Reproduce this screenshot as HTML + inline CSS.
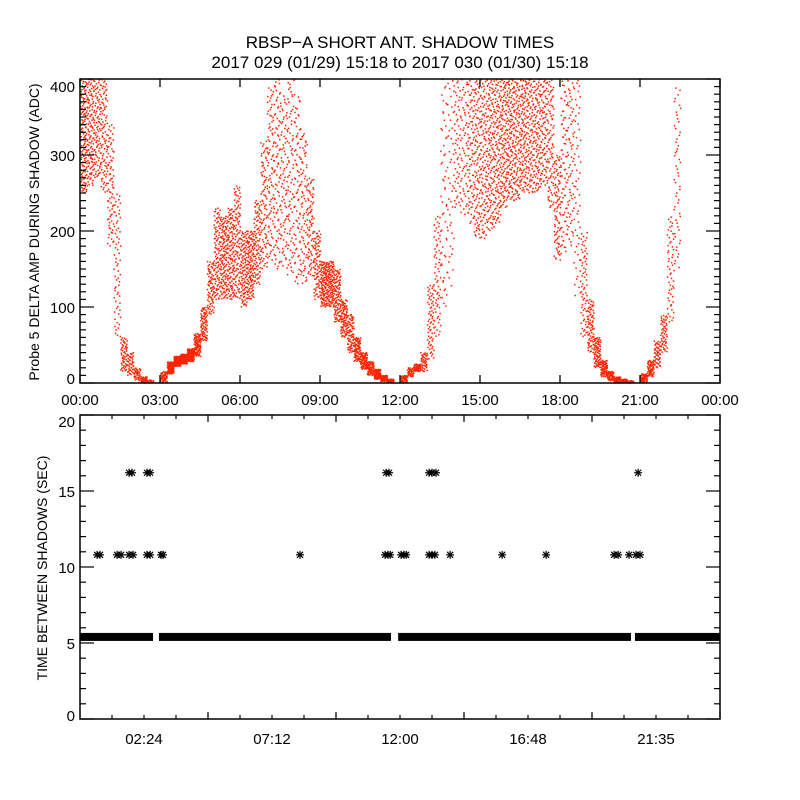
<!DOCTYPE html>
<html><head><meta charset="utf-8">
<style>
html,body{margin:0;padding:0;background:#fff;}
svg{display:block;font-family:"Liberation Sans",sans-serif;}
</style></head>
<body>
<svg id="chart" width="800" height="800" viewBox="0 0 800 800" xmlns="http://www.w3.org/2000/svg">
<rect width="800" height="800" fill="#fff"/>
<text x="400" y="48" font-size="17" text-anchor="middle">RBSP−A SHORT ANT. SHADOW TIMES</text>
<text x="400" y="68" font-size="17" text-anchor="middle">2017 029 (01/29) 15:18 to 2017 030 (01/30) 15:18</text>
<g id="topPanel"></g>
<g id="botPanel"></g>
<text transform="translate(39,232) rotate(-90)" font-size="14" text-anchor="middle">Probe 5 DELTA AMP DURING SHADOW (ADC)</text>
<text transform="translate(47,568) rotate(-90)" font-size="14" text-anchor="middle">TIME BETWEEN SHADOWS (SEC)</text>
</svg>
<script>
// ---- top panel data (hours, ADC bands) ----
const binStart = [0,0.25,0.5,0.75,1,1.25,1.5,1.75,2,2.25,2.5,
 3,3.25,3.5,3.75,4,4.25,4.5,4.75,5,5.25,5.5,5.75,6,6.25,6.5,6.75,7,7.25,7.5,7.75,8,8.25,8.5,8.75,9,9.25,9.5,9.75,10,10.25,10.5,10.75,11,11.25,11.5,
 12,12.25,12.5,12.75,13,13.25,13.5,13.75,14,14.25,14.5,14.75,15,15.25,15.5,15.75,16,16.25,16.5,16.75,17,17.25,17.5,17.75,18,18.25,18.5,18.75,19,19.25,19.5,19.75,20,20.25,20.5,
 21,21.25,21.5,21.75,22,22.25];
const binLow = [250,260,270,250,180,60,15,10,3,0,0,
 0,12,22,25,28,35,55,90,110,110,110,110,100,110,130,150,160,150,150,140,130,130,140,110,100,100,80,60,40,28,18,10,5,2,0,
 0,8,15,15,30,60,100,120,230,220,210,190,190,200,210,230,240,240,250,250,250,260,230,160,170,180,110,60,40,20,8,3,0,0,0,
 0,8,20,40,80,150];
const binHigh = [400,400,400,400,340,250,60,40,20,8,4,
 15,28,35,38,45,65,100,160,230,220,230,260,200,200,240,320,390,400,380,400,380,330,270,200,160,160,150,110,90,60,40,28,18,10,5,
 10,20,25,40,130,220,400,400,400,400,400,400,400,400,400,400,400,400,400,400,400,400,400,300,400,400,400,200,110,60,30,15,8,5,3,
 12,30,55,90,220,390];
const binCount = [60,50,40,40,35,30,25,20,15,15,6,
 20,40,50,50,45,40,35,35,50,55,55,50,50,50,45,40,40,40,35,35,35,35,35,40,50,50,45,40,35,35,35,30,30,25,20,
 15,15,20,20,30,30,25,20,25,25,40,50,50,55,55,55,55,50,50,45,45,40,40,40,35,30,25,30,35,35,30,25,20,15,8,
 20,25,25,25,25,25];
const topXTicks = ["00:00","03:00","06:00","09:00","12:00","15:00","18:00","21:00","00:00"];
const topYTicks = [0,100,200,300,400];
// ---- bottom panel data ----
const barStart = [0,2.96,11.93,20.81];
const barEnd = [2.74,11.66,20.66,24];
const barValue = [5.4,5.4,5.4,5.4];
const starTimes = [0.64,0.75,1.39,1.54,1.84,1.99,2.51,2.63,3.04,3.11,8.25,11.44,11.55,11.63,12.04,12.15,12.23,13.09,13.2,13.31,13.88,15.83,17.48,20.03,20.18,20.59,20.85,21.0,
 1.84,1.95,2.51,2.63,11.48,11.59,13.09,13.2,13.35,20.93];
const starValues = [10.8,10.8,10.8,10.8,10.8,10.8,10.8,10.8,10.8,10.8,10.8,10.8,10.8,10.8,10.8,10.8,10.8,10.8,10.8,10.8,10.8,10.8,10.8,10.8,10.8,10.8,10.8,10.8,
 16.2,16.2,16.2,16.2,16.2,16.2,16.2,16.2,16.2,16.2];
const botXTickLabels = ["02:24","07:12","12:00","16:48","21:35"];
const botXTickHours = [2.4,7.2,12,16.8,21.6];
const botYTicks = [0,5,10,15,20];

const NS="http://www.w3.org/2000/svg";
function mk(tag,attrs,parent){const e=document.createElementNS(NS,tag);for(const k in attrs)e.setAttribute(k,attrs[k]);parent.appendChild(e);return e;}
function halton(i,b){let f=1,r=0;while(i>0){f/=b;r+=f*(i%b);i=Math.floor(i/b);}return r;}
const L=80,R=720;
const tT=79,tB=383;
const tx=h=>L+(h/24)*(R-L);
const ty=v=>tB-(v/400)*(tB-tT);
const topG=document.getElementById('topPanel');
const dots=mk('g',{fill:'#ff2200'},topG);


let k=7;
for(let i=0;i<binStart.length;i++){
  const n=Math.round(binCount[i]*2.2);
  for(let j=0;j<n;j++){
    k++;
    const fx=halton(k,2), fy=halton(k,3);
    const h=binStart[i]+fx*0.25;
    const v=binLow[i]+fy*(binHigh[i]-binLow[i]);
    const d=mk('rect',{x:tx(h).toFixed(1),y:(ty(v)-0.75).toFixed(1),width:1.5,height:1.5},dots);
    
    
  }
}
const frameT=mk('rect',{x:L,y:tT,width:R-L,height:tB-tT,fill:'none',stroke:'#000','stroke-width':1.5},topG);


for(let i=0;i<topXTicks.length;i++){
  const x=tx(i*3);
  mk('line',{x1:x,y1:tB,x2:x,y2:tB-8,stroke:'#000','stroke-width':1.3},topG);
  mk('line',{x1:x,y1:tT,x2:x,y2:tT+8,stroke:'#000','stroke-width':1.3},topG);
  const t=mk('text',{x:x,y:405,'font-size':15,'text-anchor':'middle'},topG);
  t.textContent=topXTicks[i];
  
  
}
for(let v=0;v<=400;v+=10){
  const y=ty(v),len=(v%100===0)?14:6;
  mk('line',{x1:L,y1:y,x2:L+len,y2:y,stroke:'#000','stroke-width':1.2},topG);
  mk('line',{x1:R,y1:y,x2:R-len,y2:y,stroke:'#000','stroke-width':1.2},topG);
}
for(const v of topYTicks){
  const y=Math.min(Math.max(ty(v),86),378);
  const t=mk('text',{x:75,y:y+6,'font-size':15,'text-anchor':'end'},topG);
  t.textContent=v;
  
  
}
const bT=415,bB=719;
const by=v=>bB-(v/20)*(bB-bT);
const botG=document.getElementById('botPanel');
for(let i=0;i<barStart.length;i++){
  const r=mk('rect',{x:tx(barStart[i]),y:by(barValue[i])-4,width:tx(barEnd[i])-tx(barStart[i]),height:8,fill:'#000'},botG);
  
  
}
for(let i=0;i<starTimes.length;i++){
  const x=tx(starTimes[i]),y=by(starValues[i]);
  const g=mk('g',{stroke:'#000','stroke-width':1.2},botG);
  
  
  mk('line',{x1:x-4,y1:y,x2:x+4,y2:y},g);
  mk('line',{x1:x,y1:y-4,x2:x,y2:y+4},g);
  mk('line',{x1:x-3,y1:y-3,x2:x+3,y2:y+3},g);
  mk('line',{x1:x-3,y1:y+3,x2:x+3,y2:y-3},g);
}
const frameB=mk('rect',{x:L,y:bT,width:R-L,height:bB-bT,fill:'none',stroke:'#000','stroke-width':1.5},botG);


for(let h=1.2;h<24;h+=1.2){
  const x=tx(h),maj=Math.abs((h/4.8)-Math.round(h/4.8))<0.01,len=maj?7:4;
  mk('line',{x1:x,y1:bB,x2:x,y2:bB-len,stroke:'#000','stroke-width':1.2},botG);
  mk('line',{x1:x,y1:bT,x2:x,y2:bT+len,stroke:'#000','stroke-width':1.2},botG);
}
for(let i=0;i<botXTickLabels.length;i++){
  const t=mk('text',{x:tx(botXTickHours[i]),y:744,'font-size':15,'text-anchor':'middle'},botG);
  t.textContent=botXTickLabels[i];
  
  
}
for(let v=0;v<=20;v++){
  const y=by(v),len=(v%5===0)?14:6;
  mk('line',{x1:L,y1:y,x2:L+len,y2:y,stroke:'#000','stroke-width':1.2},botG);
  mk('line',{x1:R,y1:y,x2:R-len,y2:y,stroke:'#000','stroke-width':1.2},botG);
}
for(const v of botYTicks){
  const y=Math.min(Math.max(by(v),421),715);
  const t=mk('text',{x:75,y:y+6,'font-size':15,'text-anchor':'end'},botG);
  t.textContent=v;
  
  
}
</script>
</body></html>
